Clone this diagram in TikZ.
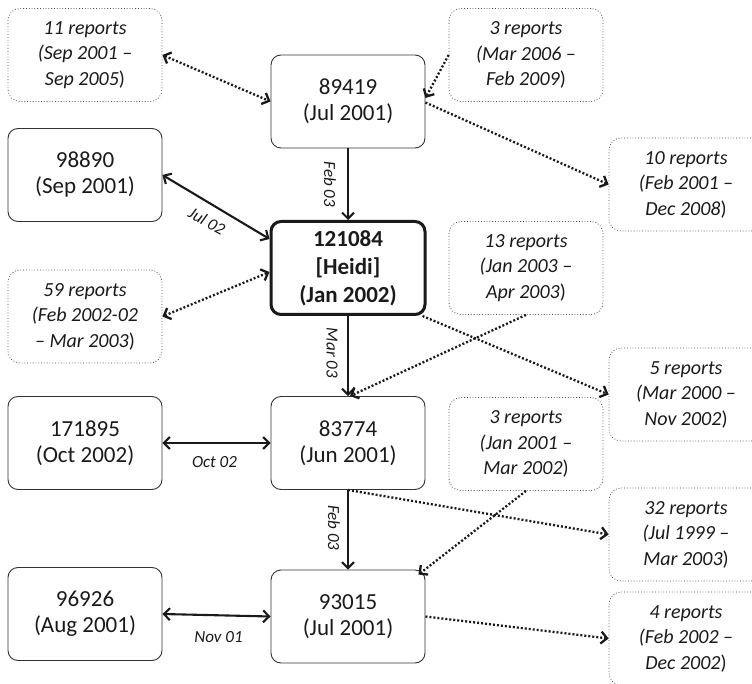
\documentclass[tikz,border=0pt]{standalone}
\usepackage{fontspec}
\setmainfont{Carlito}
\usetikzlibrary{arrows.meta,calc}
\definecolor{ink}{HTML}{1A1A1A}
\definecolor{frame}{HTML}{333333}
\definecolor{dotframe}{HTML}{4A4A4A}
\begin{document}
\begin{tikzpicture}[x=1pt,y=-1pt,
  mybarb/.tip={Straight Barb[length=6pt,width=12pt]},
  box/.style={draw=frame, line width=0.9pt, rounded corners=10pt, minimum width=154pt, minimum height=93pt, inner sep=0pt, align=center, text=ink, font=\fontsize{23}{26}\selectfont},
  keybox/.style={box, draw=ink, line width=3pt, font=\fontsize{23}{28}\selectfont\bfseries},
  repbox/.style={draw=dotframe, dotted, line width=0.8pt, rounded corners=12pt, minimum width=154pt, minimum height=93pt, inner sep=0pt, align=center, text=ink, font=\fontsize{20}{25.5}\selectfont},
  link/.style={draw=ink, line width=2.1pt, -mybarb},
  linkboth/.style={link, mybarb-mybarb},
  rep/.style={draw=ink, line width=2.3pt, dash pattern=on 2pt off 2pt, -mybarb},
  repboth/.style={rep, mybarb-mybarb},
  lbl/.style={font=\fontsize{17}{20}\selectfont\itshape, text=ink, inner sep=1pt}
]
\useasboundingbox (0,0) rectangle (752,684);

% main nodes
\node[box] (n89419) at (348,101.5) {89419\\(Jul 2001)};
\node[box] (n98890) at (85,175) {98890\\(Sep 2001)};
\node[keybox] (heidi) at (348,268) {121084\\{[}Heidi{]}\\(Jan 2002)};
\node[box] (n171895) at (85,443) {171895\\(Oct 2002)};
\node[box] (n83774) at (348,443) {83774\\(Jun 2001)};
\node[box] (n96926) at (85,614) {96926\\(Aug 2001)};
\node[box] (n93015) at (348,616.5) {93015\\(Jul 2001)};

% report nodes
\node[repbox] (r11) at (85,55) {\textit{11 reports}\\\textit{(Sep 2001 –}\\\textit{Sep 2005})};
\node[repbox] (r3a) at (526,55) {\textit{3 reports}\\\textit{(Mar 2006 –}\\\textit{Feb 2009})};
\node[repbox] (r10) at (686,184.5) {\textit{10 reports}\\\textit{(Feb 2001 –}\\\textit{Dec 2008})};
\node[repbox] (r59) at (85,316.5) {\textit{59 reports}\\\textit{(Feb 2002-02}\\\textit{– Mar 2003})};
\node[repbox] (r13) at (526,268) {\textit{13 reports}\\\textit{(Jan 2003 –}\\\textit{Apr 2003})};
\node[repbox] (r5) at (686,394.5) {\textit{5 reports}\\\textit{(Mar 2000 –}\\\textit{Nov 2002})};
\node[repbox] (r3b) at (526,444) {\textit{3 reports}\\\textit{(Jan 2001 –}\\\textit{Mar 2002})};
\node[repbox] (r32) at (686,534.5) {\textit{32 reports}\\\textit{(Jul 1999 –}\\\textit{Mar 2003})};
\node[repbox] (r4) at (686,638.5) {\textit{4 reports}\\\textit{(Feb 2002 –}\\\textit{Dec 2002})};

% solid connectors
\draw[link] (n89419.south) -- (heidi.north)
  node[lbl, midway, xshift=-18pt, rotate=-90] (l1) {Feb 03};
\draw[linkboth] (n98890.east) -- ([yshift=29pt]heidi.west)
  node[lbl, midway, xshift=-9pt, yshift=-14pt, rotate=-29] (l2) {Jul 02};
\draw[link] (heidi.south) -- (n83774.north)
  node[lbl, midway, xshift=-16pt, yshift=3pt, rotate=-90] (l3) {Mar 03};
\draw[linkboth] (n171895.east) -- (n83774.west)
  node[lbl, midway, xshift=-2pt, yshift=-19pt] (l4) {Oct 02};
\draw[link] (n83774.south) -- (n93015.north)
  node[lbl, midway, xshift=-14pt, yshift=2pt, rotate=-90] (l5) {Feb 03};
\draw[linkboth] (n96926.east) -- (n93015.west)
  node[lbl, midway, xshift=2pt, yshift=-22pt] (l6) {Nov 01};

% dotted connectors
\draw[repboth] (r11.east) -- (n89419.west);
\draw[rep] (r3a.west) -- ([yshift=3.5pt]n89419.east);
\draw[rep] ([yshift=-1pt]n89419.east) -- (r10.west);
\draw[repboth] (r59.east) -- ([yshift=-4pt]heidi.west);
\draw[rep] (r13.south) -- ([xshift=2pt]n83774.north);
\draw[rep] ([xshift=-4pt]heidi.south east) -- (r5.west);
\draw[rep] (n83774.south) -- (r32.west);
\coordinate (n93015ne) at ($(n93015.north east)+(-7,5)$);
\draw[rep] (r3b.south) -- (n93015ne);
\draw[rep] (n93015.east) -- (r4.west);
\end{tikzpicture}
\end{document}
